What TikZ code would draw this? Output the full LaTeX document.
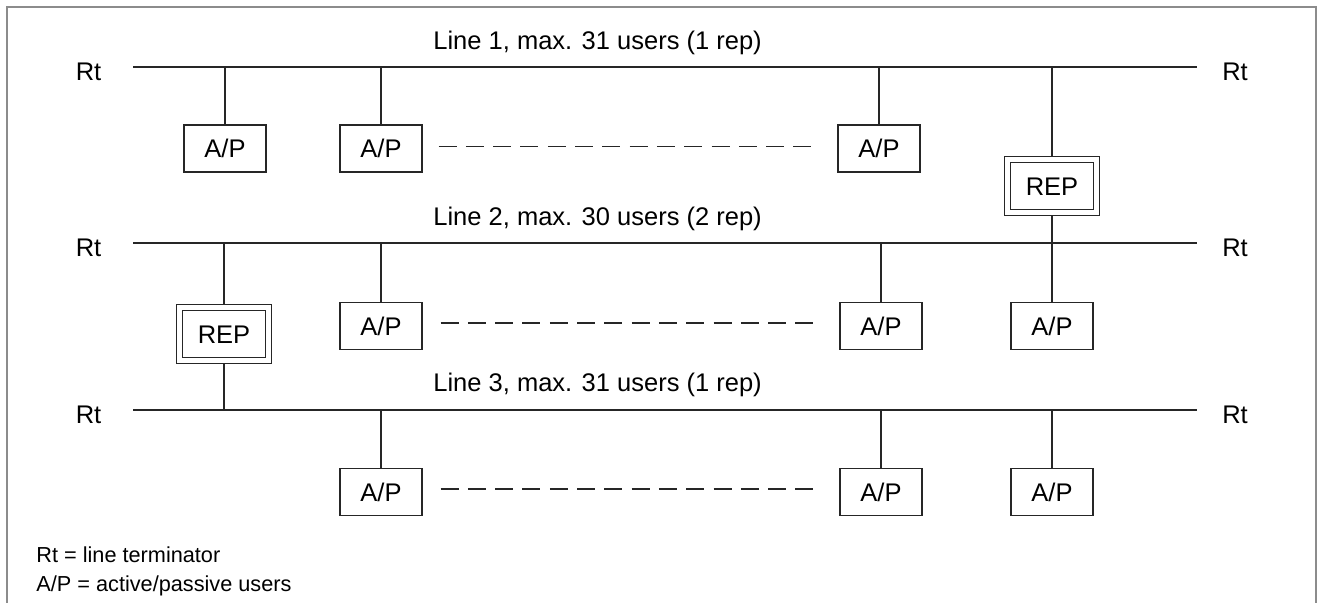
\documentclass[tikz,border=0pt]{standalone}
\usepackage{fontspec}
\setmainfont{Liberation Sans}
\begin{document}
\begin{tikzpicture}[x=0.5pt,y=-0.5pt,
  conn/.style={draw=black!85, line width=0.55pt},
  dashconn/.style={draw=black!85, line width=0.55pt, dash pattern=on 9pt off 4.65pt},
  apbox/.style={draw=black!85, line width=0.55pt, fill=white, minimum width=41pt, minimum height=23.5pt, inner sep=0pt, font=\fontsize{12.75pt}{14pt}\selectfont},
  repbox/.style={draw=black!85, line width=0.5pt, double, double distance=2.5pt, fill=white, minimum width=44.5pt, minimum height=26.5pt, inner sep=0pt, outer sep=1.75pt, font=\fontsize{12.75pt}{14pt}\selectfont},
  lbl/.style={inner sep=0pt, anchor=base, font=\fontsize{12.75pt}{14pt}\selectfont},
  ttl/.style={inner sep=0pt, anchor=base west, font=\fontsize{12.75pt}{14pt}\selectfont},
  legend/.style={inner sep=0pt, anchor=base west, font=\fontsize{10.85pt}{13pt}\selectfont},
  frame/.style={draw=black!45, line width=0.9pt}]
\useasboundingbox (0,0) rectangle (1319,603);
% frame
\draw[frame] (7,603) -- (7,7) -- (1316,7) -- (1316,603);

% bus lines
\coordinate (l1w) at (133,67);  \coordinate (l1e) at (1197,67);
\coordinate (l2w) at (133,243); \coordinate (l2e) at (1197,243);
\coordinate (l3w) at (133,410); \coordinate (l3e) at (1197,410);
\draw[conn] (l1w) -- (l1e);
\draw[conn] (l2w) -- (l2e);
\draw[conn] (l3w) -- (l3e);

% terminators
\node[lbl] (rt1l) at (88.5,80.5) {Rt};
\node[lbl] (rt1r) at (1235,80.5) {Rt};
\node[lbl] (rt2l) at (88.5,256.5) {Rt};
\node[lbl] (rt2r) at (1235,256.5) {Rt};
\node[lbl] (rt3l) at (88.5,423.5) {Rt};
\node[lbl] (rt3r) at (1235,423.5) {Rt};

% titles
\node[ttl] (t1) at (433,50) {Line 1, max. 31 users (1 rep)};
\node[ttl] (t2) at (433,226) {Line 2, max. 30 users (2 rep)};
\node[ttl] (t3) at (433,392) {Line 3, max. 31 users (1 rep)};

% line 1 users
\node[apbox] (a11) at (225,148.5) {A/P};
\node[apbox] (a12) at (381,148.5) {A/P};
\node[apbox] (a13) at (879,148.5) {A/P};
\node[repbox] (rep1) at (1052,186.5) {REP};

% line 2 users
\node[repbox] (rep2) at (224,334.5) {REP};
\node[apbox] (a22) at (381,326) {A/P};
\node[apbox] (a23) at (881,326) {A/P};
\node[apbox] (a24) at (1052,326) {A/P};

% line 3 users
\node[apbox] (a32) at (381,492) {A/P};
\node[apbox] (a33) at (881,492) {A/P};
\node[apbox] (a34) at (1052,492) {A/P};

% drops from line 1
\draw[conn] (a11.north) -- (a11.north |- l1w);
\draw[conn] (a12.north) -- (a12.north |- l1w);
\draw[conn] (a13.north) -- (a13.north |- l1w);
\draw[conn] (rep1.north) -- (rep1.north |- l1w);
% repeater 1 to line 2 and its user
\draw[conn] (rep1.south) -- (a24.north);
% drops from line 2
\draw[conn] (rep2.north) -- (rep2.north |- l2w);
\draw[conn] (a22.north) -- (a22.north |- l2w);
\draw[conn] (a23.north) -- (a23.north |- l2w);
% repeater 2 to line 3
\draw[conn] (rep2.south) -- (rep2.south |- l3w);
% drops from line 3
\draw[conn] (a32.north) -- (a32.north |- l3w);
\draw[conn] (a33.north) -- (a33.north |- l3w);
\draw[conn] (a34.north) -- (a34.north |- l3w);

% dashed continuation
\draw[dashconn] ([xshift=8pt,yshift=1.2pt]a12.east) -- ([xshift=-12.5pt,yshift=1.2pt]a13.west);
\draw[dashconn] ([xshift=9pt,yshift=1.5pt]a22.east) -- ([xshift=-11.5pt,yshift=1.5pt]a23.west);
\draw[dashconn] ([xshift=9pt,yshift=1.5pt]a32.east) -- ([xshift=-11.5pt,yshift=1.5pt]a33.west);

% legend
\node[legend] (lg1) at (36,563) {Rt = line terminator};
\node[legend] (lg2) at (36,592) {A/P = active/passive users};
\end{tikzpicture}
\end{document}
